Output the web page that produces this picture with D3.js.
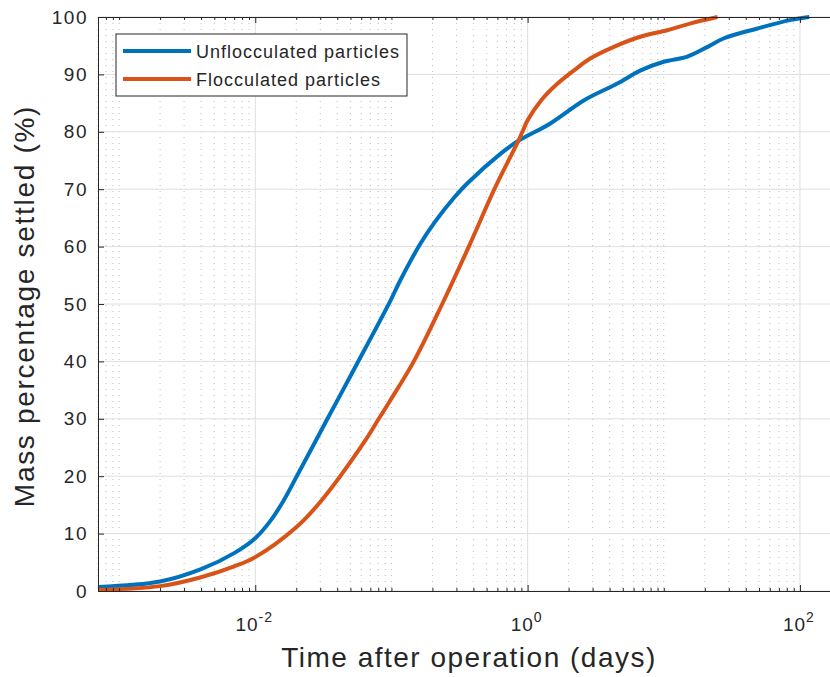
<!DOCTYPE html>
<html>
<head>
<meta charset="utf-8">
<script src="https://cdn.jsdelivr.net/npm/d3@7"></script>
<style>
  body { margin: 0; background: #fff; }
  svg { font-family: "Liberation Sans", Arial, sans-serif; }
</style>
</head>
<body>
<svg id="chart" width="830" height="677"></svg>
<script>
// values (time in days, mass settled in %)
var unflocT = [0.0007, 0.002, 0.004, 0.007, 0.01, 0.013, 0.016, 0.0204, 0.0339, 0.0528, 0.0984, 0.116, 0.163, 0.21, 0.29, 0.36, 0.634, 0.84, 1.48, 2.6, 4.56, 6.77, 10, 14.9, 21, 27.7, 48.8, 86, 117];
var unflocV = [0.7, 1.65, 3.8, 6.6, 9.2, 12.3, 15.6, 20.2, 30.0, 38.5, 50.6, 54.1, 60.5, 64.4, 68.6, 71.0, 76.2, 78.3, 81.5, 85.5, 88.4, 90.7, 92.2, 93.1, 94.8, 96.3, 98.0, 99.5, 100];
var flocT = [0.0007, 0.002, 0.004, 0.007, 0.01, 0.02, 0.03, 0.0625, 0.0807, 0.098, 0.146, 0.236, 0.37, 0.57, 0.71, 0.85, 0.916, 1.0, 1.26, 1.66, 2.19, 2.9, 4.3, 6.8, 10.6, 15.8, 24.8];
var flocV = [0.2, 0.85, 2.4, 4.3, 5.9, 11.1, 15.5, 25.8, 30.0, 33.2, 40.0, 50.0, 60.0, 70.0, 74.6, 78.3, 80.0, 82.0, 85.5, 88.4, 90.7, 92.8, 94.8, 96.6, 97.7, 98.9, 100];
var seriesNames = ["Unflocculated particles", "Flocculated particles"];
var seriesColors = ["#0072BD", "#D95319"];
var yTicks = [0, 10, 20, 30, 40, 50, 60, 70, 80, 90, 100];
var xTicks = [1e-2, 1, 1e2];

var svg = d3.select("#chart");
var pLeft = 98, pRight = 831, pTop = 17, pBottom = 591;
var ink = "#262626";

var x = d3.scaleLog().domain([7e-4, Math.pow(10, 2.228)]).range([pLeft, pRight]);
var y = d3.scaleLinear().domain([0, 100]).range([pBottom, pTop]);

// minor tick values for log axis
var minor = [];
for (var e = -4; e <= 2; e++) {
  for (var m = 1; m <= 9; m++) {
    var v = m * Math.pow(10, e);
    if (v >= x.domain()[0] * 0.999 && v <= x.domain()[1]) minor.push(v);
  }
}
var isMajor = function(d) { return xTicks.some(function(t) { return Math.abs(d / t - 1) < 1e-6; }); };
var minorOnly = minor.filter(function(v) { return !isMajor(v); });

var grid = svg.append("g");
// minor dotted verticals
grid.selectAll("line.minor").data(minorOnly).enter().append("line")
  .attr("x1", function(d) { return x(d); }).attr("x2", function(d) { return x(d); })
  .attr("y1", pTop).attr("y2", pBottom)
  .attr("stroke", "#bdbdbd").attr("stroke-width", 1)
  .attr("stroke-dasharray", "1,5");
// major grid
grid.selectAll("line.mx").data(xTicks).enter().append("line")
  .attr("x1", function(d) { return x(d); }).attr("x2", function(d) { return x(d); })
  .attr("y1", pTop).attr("y2", pBottom)
  .attr("stroke", "#dedede").attr("stroke-width", 1);
grid.selectAll("line.my").data(yTicks).enter().append("line")
  .attr("x1", pLeft).attr("x2", pRight)
  .attr("y1", function(d) { return y(d); }).attr("y2", function(d) { return y(d); })
  .attr("stroke", "#dedede").attr("stroke-width", 1);

// lines
var line = d3.line()
  .x(function(d) { return x(d[0]); })
  .y(function(d) { return y(d[1]); })
  .curve(d3.curveCatmullRom.alpha(0.5));

var series = [d3.zip(unflocT, unflocV), d3.zip(flocT, flocV)];
svg.selectAll("path.series").data(series).enter().append("path")
  .attr("d", line)
  .attr("fill", "none")
  .attr("stroke", function(d, i) { return seriesColors[i]; })
  .attr("stroke-width", 4)
  .attr("stroke-linejoin", "round");

// axes
var yAxis = d3.axisLeft(y).tickValues(yTicks).tickSizeInner(-6).tickSizeOuter(0).tickPadding(10);
var gy = svg.append("g").attr("transform", "translate(" + pLeft + ",0)").call(yAxis);
gy.selectAll("text").attr("font-size", 19).attr("letter-spacing", 1.5).attr("fill", ink)
  .attr("font-family", "Liberation Sans, Arial, sans-serif");
gy.selectAll("line").attr("stroke", ink);
gy.select(".domain").attr("stroke", ink);

var xAxis = d3.axisBottom(x).tickValues(minor).tickSizeInner(-6).tickSizeOuter(0).tickFormat("");
var gx = svg.append("g").attr("transform", "translate(0," + pBottom + ")").call(xAxis);
gx.selectAll("line").attr("stroke", ink).attr("y2", function(d) { return isMajor(d) ? -6 : -3; });
gx.select(".domain").attr("stroke", ink);

var xTop = d3.axisTop(x).tickValues(minor).tickSizeInner(-6).tickSizeOuter(0).tickFormat("");
var gt = svg.append("g").attr("transform", "translate(0," + pTop + ")").call(xTop);
gt.selectAll("line").attr("stroke", ink).attr("y2", function(d) { return isMajor(d) ? 6 : 3; });
gt.select(".domain").attr("stroke", ink);

// x tick labels with superscripts
var xl = svg.append("g").selectAll("text").data(xTicks).enter().append("text")
  .attr("x", function(d) { return x(d) - 1; })
  .attr("y", 631)
  .attr("text-anchor", "middle")
  .attr("font-size", 19).attr("letter-spacing", 1).attr("fill", ink);
xl.append("tspan").text("10");
xl.append("tspan").attr("dy", -9).attr("font-size", 14)
  .text(function(d) { return String(Math.round(Math.log10(d))); });

// axis labels
svg.append("text").attr("x", 469).attr("y", 667).attr("text-anchor", "middle")
  .attr("font-size", 28).attr("letter-spacing", 1.5).attr("fill", ink).text("Time after operation (days)");
svg.append("text").attr("transform", "translate(34,306) rotate(-90)").attr("text-anchor", "middle")
  .attr("font-size", 28).attr("letter-spacing", 1.7).attr("fill", ink).text("Mass percentage settled (%)");

// legend
var lg = svg.append("g");
lg.append("rect").attr("x", 116).attr("y", 34).attr("width", 291).attr("height", 62)
  .attr("fill", "#fff").attr("stroke", ink).attr("stroke-width", 1);
seriesNames.forEach(function(name, i) {
  var ly = 51 + i * 28;
  lg.append("line").attr("x1", 123).attr("x2", 191).attr("y1", ly).attr("y2", ly)
    .attr("stroke", seriesColors[i]).attr("stroke-width", 4);
  lg.append("text").attr("x", 196).attr("y", ly + 7).attr("font-size", 18).attr("letter-spacing", 1)
    .attr("fill", ink).text(name);
});
</script>
</body>
</html>
